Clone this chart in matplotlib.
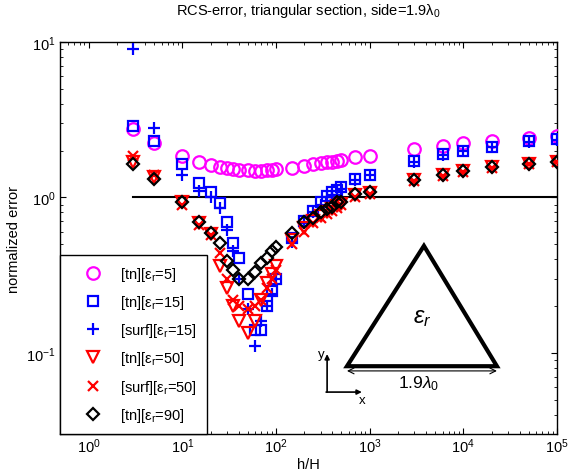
import numpy as np
import matplotlib
matplotlib.use("Agg")
import matplotlib.pyplot as plt
from matplotlib.ticker import LogLocator, NullFormatter

plt.rcParams['font.family'] = ['Liberation Sans', 'DejaVu Sans']
plt.rcParams['mathtext.fontset'] = 'custom'
plt.rcParams['mathtext.rm'] = 'Liberation Sans'
plt.rcParams['mathtext.it'] = 'Liberation Sans:italic'
plt.rcParams['font.size'] = 10.5

# data (h/H vs normalized error)
h_ratio = [3, 5, 10, 15, 20, 25, 30, 35, 40, 50, 60, 70, 80, 90, 100,
           150, 200, 250, 300, 350, 400, 450, 500, 700, 1000,
           3000, 6000, 1e4, 2e4, 5e4, 1e5]

tn_er5 = [2.75, 2.23, 1.84, 1.68, 1.62, 1.58, 1.55, 1.52, 1.5, 1.49, 1.48, 1.48, 1.5, 1.5, 1.52,
          1.55, 1.6, 1.63, 1.66, 1.68, 1.7, 1.72, 1.74, 1.82, 1.84,
          2.04, 2.13, 2.23, 2.3, 2.4, 2.47]
tn_er15 = [2.9, 2.3, 1.63, 1.23, 1.08, 0.92, 0.69, 0.51, 0.41, 0.24, 0.14, 0.14, 0.2, 0.25, 0.3,
           0.55, 0.7, 0.82, 0.93, 1.02, 1.08, 1.12, 1.16, 1.31, 1.4,
           1.72, 1.9, 2.0, 2.12, 2.3, 2.37]
surf_er15 = [9.0, 2.8, 1.4, 1.1, 1.0, 0.85, 0.62, 0.45, 0.3, 0.19, 0.11, 0.16, 0.2, 0.24, 0.3,
             0.52, 0.68, 0.8, 0.9, 1.0, 1.04, 1.1, 1.14, 1.3, 1.4,
             1.7, 1.88, 1.98, 2.1, 2.27, 2.35]
tn_er50 = [1.7, 1.35, 0.93, 0.68, 0.58, 0.36, 0.26, 0.2, 0.16, 0.135, 0.16, 0.22, 0.28, 0.32, 0.36,
           0.53, 0.64, 0.7, 0.76, 0.8, 0.84, 0.88, 0.91, 1.03, 1.07,
           1.3, 1.4, 1.47, 1.56, 1.65, 1.7]
surf_er50 = [1.85, 1.4, 0.9, 0.66, 0.57, 0.44, 0.3, 0.22, 0.2, 0.19, 0.2, 0.22, 0.26, 0.3, 0.34,
             0.5, 0.6, 0.68, 0.74, 0.78, 0.82, 0.86, 0.89, 1.0, 1.05,
             1.28, 1.38, 1.45, 1.54, 1.63, 1.68]
tn_er90 = [1.63, 1.32, 0.93, 0.69, 0.59, 0.51, 0.39, 0.34, 0.3, 0.3, 0.33, 0.38, 0.41, 0.45, 0.48,
           0.59, 0.69, 0.74, 0.8, 0.84, 0.87, 0.93, 0.94, 1.05, 1.09,
           1.29, 1.39, 1.47, 1.56, 1.63, 1.68]

ref_x = [3, 1e5]
ref_y = [1, 1]

series = [
    (tn_er5, 'o', '#ff00ff', 9, r'[tn][ε$_{\rm r}$=5]'),
    (tn_er15, 's', '#0000ff', 7.5, r'[tn][ε$_{\rm r}$=15]'),
    (surf_er15, '+', '#0000ff', 9, r'[surf][ε$_{\rm r}$=15]'),
    (tn_er50, 'v', '#ff0000', 9, r'[tn][ε$_{\rm r}$=50]'),
    (surf_er50, 'x', '#ff0000', 7, r'[surf][ε$_{\rm r}$=50]'),
    (tn_er90, 'D', 'black', 6.5, r'[tn][ε$_{\rm r}$=90]'),
]

fig = plt.figure(figsize=(5.69, 4.77), dpi=100)
ax = fig.add_axes([0.1063, 0.088, 0.8726, 0.8218])

ax.plot(ref_x, ref_y, color='black', lw=1.5, zorder=1)

for vals, mk, col, ms, lab in series:
    if mk in ('+', 'x'):
        ax.plot(h_ratio, vals, linestyle='none', marker=mk, color=col,
                markersize=ms, markeredgewidth=1.6, label=lab, zorder=3)
    else:
        ax.plot(h_ratio, vals, linestyle='none', marker=mk, markerfacecolor='none',
                markeredgecolor=col, markersize=ms, markeredgewidth=1.6,
                label=lab, zorder=3)

ax.set_xscale('log')
ax.set_yscale('log')
ax.set_xlim(0.5, 1e5)
ax.set_ylim(0.03, 10)
ax.xaxis.set_major_locator(LogLocator(base=10, numticks=10))
ax.xaxis.set_minor_locator(LogLocator(base=10, subs=np.arange(2, 10), numticks=20))
ax.yaxis.set_minor_locator(LogLocator(base=10, subs=np.arange(2, 10), numticks=20))
ax.xaxis.set_minor_formatter(NullFormatter())
ax.yaxis.set_minor_formatter(NullFormatter())
ax.tick_params(which='both', direction='in', top=True, right=True, labelsize=10.5)
ax.tick_params(axis='x', which='major', pad=2)
ax.tick_params(which='major', length=4)
ax.tick_params(which='minor', length=2)
for s in ax.spines.values():
    s.set_linewidth(1.0)

ax.set_title(r'RCS-error, triangular section, side=1.9λ$_0$', fontsize=10.5, pad=20)
ax.set_xlabel('h/H', fontsize=10.5, labelpad=1)
ax.set_ylabel('normalized error', fontsize=10.5)

leg = ax.legend(loc='lower left', borderaxespad=0, fancybox=False,
                edgecolor='black', framealpha=1, labelspacing=0.7,
                handletextpad=0.4, borderpad=0.7, handlelength=3.0, fontsize=10.5)
leg.get_frame().set_linewidth(1.0)

# inset sketch of the triangular section (axes-fraction coords)
tr = ax.transAxes
tri = plt.Polygon([[0.577, 0.173], [0.879, 0.173], [0.732, 0.480]], closed=True,
                  fill=False, edgecolor='black', lw=3, transform=tr, zorder=4)
ax.add_patch(tri)
ax.text(0.728, 0.298, r'$\varepsilon_r$', transform=tr, fontsize=17,
        ha='center', va='center')
ax.annotate('', xy=(0.577, 0.161), xytext=(0.879, 0.161), xycoords=tr,
            textcoords=tr, arrowprops=dict(arrowstyle='<->', lw=0.8, color='black',
                                           shrinkA=0, shrinkB=0))
ax.text(0.722, 0.131, r'1.9$\lambda_0$', transform=tr, fontsize=12.5,
        ha='center', va='center')
ax.annotate('', xy=(0.537, 0.204), xytext=(0.537, 0.107), xycoords=tr,
            textcoords=tr, arrowprops=dict(arrowstyle='-|>', lw=1.2, color='black',
                                           shrinkA=0, shrinkB=0, mutation_scale=7))
ax.annotate('', xy=(0.607, 0.107), xytext=(0.535, 0.107), xycoords=tr,
            textcoords=tr, arrowprops=dict(arrowstyle='-|>', lw=1.2, color='black',
                                           shrinkA=0, shrinkB=0, mutation_scale=7))
ax.text(0.525, 0.205, 'y', transform=tr, fontsize=9.5, ha='center', va='center')
ax.text(0.607, 0.086, 'x', transform=tr, fontsize=9.5, ha='center', va='center')

fig.savefig('out.png', dpi=100)
